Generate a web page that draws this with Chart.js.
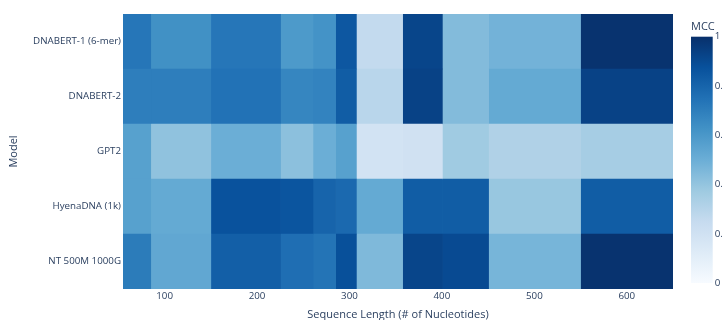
<!DOCTYPE html>
<html>
<head>
<meta charset="utf-8">
<script src="https://cdn.jsdelivr.net/npm/chart.js@4.4.1/dist/chart.umd.min.js"></script>
<style>
  html, body { margin: 0; padding: 0; background: #fff; }
  #wrap { width: 722px; height: 320px; position: relative; }
</style>
</head>
<body>
<div id="wrap"><canvas id="chart" width="722" height="320"></canvas></div>
<script>
// Models (rows, top to bottom) and sequence lengths (columns)
const models = ['DNABERT-1 (6-mer)', 'DNABERT-2', 'GPT2', 'HyenaDNA (1k)', 'NT 500M 1000G'];
const seqLengths = [70, 100, 200, 251, 270, 300, 315, 400, 401, 500, 600];
const xTickValues = [100, 200, 300, 400, 500, 600];
const colorbarTicks = [0, 0.2, 0.4, 0.6, 0.8, 1];

// MCC per model, one value per sequence length
const mccDnabert1 = [0.73, 0.63, 0.73, 0.59, 0.62, 0.85, 0.26, 0.92, 0.44, 0.48, 0.99];
const mccDnabert2 = [0.70, 0.70, 0.745, 0.67, 0.68, 0.83, 0.29, 0.93, 0.44, 0.52, 0.93];
const mccGpt2     = [0.56, 0.41, 0.50, 0.42, 0.50, 0.56, 0.19, 0.20, 0.37, 0.32, 0.35];
const mccHyena    = [0.56, 0.52, 0.87, 0.86, 0.80, 0.78, 0.52, 0.83, 0.83, 0.39, 0.83];
const mccNt       = [0.71, 0.53, 0.82, 0.76, 0.74, 0.88, 0.45, 0.92, 0.90, 0.47, 0.99];

const mccRows = [mccDnabert1, mccDnabert2, mccGpt2, mccHyena, mccNt];

// Sequential "Blues" colour scale
const blues = [
  [0.0,   [247, 251, 255]],
  [0.125, [222, 235, 247]],
  [0.25,  [198, 219, 239]],
  [0.375, [158, 202, 225]],
  [0.5,   [107, 174, 214]],
  [0.625, [66, 146, 198]],
  [0.75,  [33, 113, 181]],
  [0.875, [8, 81, 156]],
  [1.0,   [8, 48, 107]]
];
function bluesColor(v) {
  v = Math.max(0, Math.min(1, v));
  for (let i = 1; i < blues.length; i++) {
    const [p1, c1] = blues[i];
    const [p0, c0] = blues[i - 1];
    if (v <= p1) {
      const t = (v - p0) / (p1 - p0);
      const c = c0.map((a, k) => Math.round(a + (c1[k] - a) * t));
      return `rgb(${c[0]},${c[1]},${c[2]})`;
    }
  }
  return 'rgb(8,48,107)';
}

// Cell edges: midpoints between neighbouring lengths, half a step beyond each end
const edges = [];
edges.push(seqLengths[0] - (seqLengths[1] - seqLengths[0]) / 2);
for (let i = 0; i < seqLengths.length - 1; i++) edges.push((seqLengths[i] + seqLengths[i + 1]) / 2);
const n = seqLengths.length;
edges.push(seqLengths[n - 1] + (seqLengths[n - 1] - seqLengths[n - 2]) / 2);

const FONT = '"Open Sans", "Liberation Sans", sans-serif';
const TEXT = 'rgb(42,63,95)';
const TICK_SIZE = 9.75;
const TITLE_SIZE = 11;

const datasets = seqLengths.map((len, j) => ({
  label: String(len),
  data: mccRows.map(() => [edges[j], edges[j + 1]]),
  backgroundColor: mccRows.map(row => bluesColor(row[j])),
  borderWidth: 0,
  borderSkipped: false,
  grouped: false,
  barPercentage: 1,
  categoryPercentage: 1
}));

// Colour bar with its title and ticks, drawn beside the plot area
const colorbarPlugin = {
  id: 'colorbar',
  afterDraw(chart) {
    const ctx = chart.ctx;
    const left = 691, right = 712.7, top = 36.7, bottom = 283;
    const grad = ctx.createLinearGradient(0, bottom, 0, top);
    blues.forEach(([p, c]) => grad.addColorStop(p, `rgb(${c[0]},${c[1]},${c[2]})`));
    ctx.save();
    ctx.fillStyle = grad;
    ctx.fillRect(left, top, right - left, bottom - top);
    ctx.fillStyle = TEXT;
    ctx.font = `${TITLE_SIZE}px ${FONT}`;
    ctx.textAlign = 'left';
    ctx.textBaseline = 'middle';
    ctx.fillText('MCC', 691, 27);
    ctx.font = `${TICK_SIZE}px ${FONT}`;
    colorbarTicks.forEach(v => {
      const y = bottom - v * (bottom - top);
      ctx.fillText(String(v), right + 2, y);
    });
    ctx.restore();
  }
};

new Chart(document.getElementById('chart'), {
  type: 'bar',
  data: { labels: models, datasets },
  plugins: [colorbarPlugin],
  options: {
    indexAxis: 'y',
    responsive: false,
    animation: false,
    events: [],
    layout: { padding: { left: 0, right: 49, top: 14, bottom: 0 } },
    plugins: { legend: { display: false }, tooltip: { enabled: false } },
    scales: {
      x: {
        type: 'linear',
        min: edges[0],
        max: edges[edges.length - 1],
        afterBuildTicks: s => { s.ticks = xTickValues.map(v => ({ value: v })); },
        afterFit: s => { s.height = 31; },
        grid: { display: false, drawTicks: false },
        border: { display: false },
        ticks: { color: TEXT, font: { family: FONT, size: TICK_SIZE }, padding: 1, maxRotation: 0 },
        title: {
          display: true,
          text: 'Sequence Length (# of Nucleotides)',
          color: TEXT,
          font: { family: FONT, size: TITLE_SIZE, lineHeight: 1 },
          padding: { top: 0, bottom: 0 }
        }
      },
      y: {
        type: 'category',
        afterFit: s => { s.width = 123; },
        grid: { display: false, drawTicks: false },
        border: { display: false },
        ticks: { color: TEXT, font: { family: FONT, size: TICK_SIZE }, padding: 2 },
        title: {
          display: true,
          text: 'Model',
          color: TEXT,
          font: { family: FONT, size: TITLE_SIZE, lineHeight: 1 },
          padding: { top: 8.5, bottom: 0 }
        }
      }
    }
  }
});
</script>
</body>
</html>
